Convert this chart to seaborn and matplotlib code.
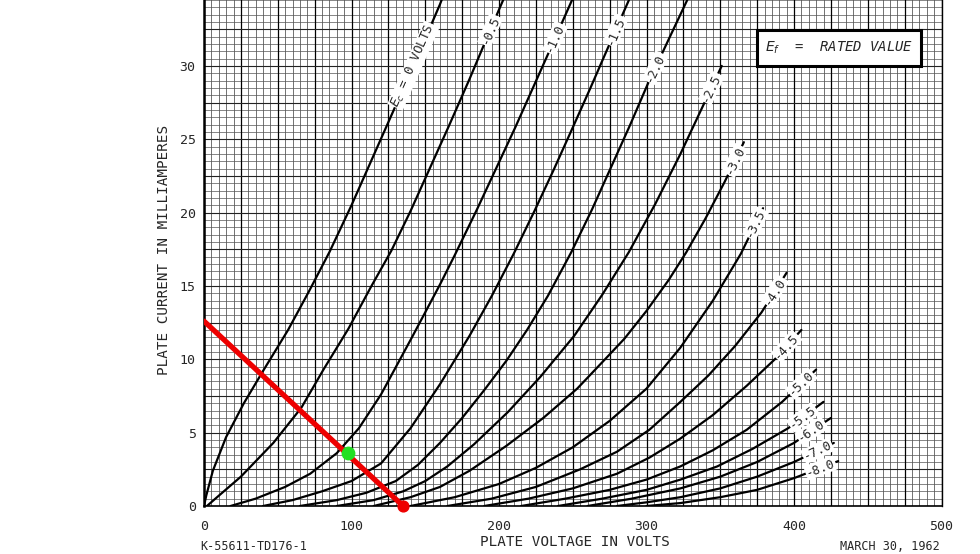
import numpy as np
import seaborn as sns
import matplotlib
matplotlib.use('Agg')
import matplotlib.pyplot as plt
from matplotlib.patches import Rectangle

# plate characteristics: plate volts / plate mA
ec_00_v = [0, 1.5, 6, 15, 27, 40, 57, 71, 85, 100, 115, 130, 145, 160, 163]
ec_00_i = [0, 0.7, 2.4, 4.7, 7.0, 9.2, 12.0, 14.6, 17.3, 20.5, 23.9, 27.3, 30.7, 34.2, 35.0]
ec_05_v = [2, 10, 25, 47, 66, 81, 98, 113, 127, 140, 153, 166, 180, 193, 205]
ec_05_i = [0, 0.7, 2.0, 4.3, 6.7, 9.3, 12.1, 14.9, 17.4, 20.1, 23.0, 25.9, 29.1, 32.2, 35.0]
ec_10_v = [18, 35, 55, 72, 90, 105, 120, 141, 160, 170, 185, 198, 211, 223, 235, 250]
ec_10_i = [0, 0.5, 1.3, 2.2, 3.6, 5.3, 7.6, 11.5, 15.1, 17.1, 20.2, 23.0, 25.8, 28.5, 31.2, 34.6]
ec_15_v = [40, 60, 80, 100, 120, 140, 160, 180, 195, 210, 224, 237, 250, 262, 275, 289]
ec_15_i = [0, 0.4, 1.0, 1.7, 2.9, 5.3, 8.3, 11.6, 14.3, 17.2, 20.1, 22.9, 25.8, 28.5, 31.5, 34.7]
ec_20_v = [65, 90, 110, 130, 145, 160, 175, 190, 205, 219, 233, 249, 263, 276, 289, 301, 315, 330]
ec_20_i = [0, 0.4, 0.9, 1.7, 2.8, 4.3, 6.0, 7.9, 9.9, 12.0, 14.3, 17.3, 20.2, 23.1, 26.0, 28.8, 31.8, 35.0]
ec_25_v = [90, 115, 135, 150, 165, 183, 206, 228, 251, 270, 288, 306, 323, 337, 351]
ec_25_i = [0, 0.4, 1.0, 1.7, 2.7, 4.2, 6.4, 8.8, 11.6, 14.4, 17.3, 20.6, 24.0, 27.0, 30.0]
ec_30_v = [115, 140, 160, 180, 205, 230, 253, 270, 285, 300, 315, 327, 340, 353, 366]
ec_30_i = [0, 0.6, 1.3, 2.4, 4.1, 6.0, 8.0, 9.8, 11.4, 13.3, 15.4, 17.3, 19.6, 22.1, 24.8]
ec_35_v = [140, 170, 200, 225, 250, 275, 300, 323, 345, 364, 379]
ec_35_i = [0, 0.6, 1.5, 2.6, 4.0, 5.8, 8.0, 10.8, 14.0, 17.2, 20.3]
ec_40_v = [165, 195, 225, 255, 280, 302, 323, 342, 360, 378, 395]
ec_40_i = [0, 0.5, 1.3, 2.5, 3.7, 5.2, 7.1, 8.9, 10.9, 13.2, 15.9]
ec_45_v = [190, 220, 250, 280, 302, 323, 345, 368, 387, 405]
ec_45_i = [0, 0.5, 1.2, 2.2, 3.3, 4.6, 6.2, 8.2, 10.0, 12.0]
ec_50_v = [215, 245, 275, 300, 323, 345, 368, 392, 415]
ec_50_i = [0, 0.5, 1.1, 1.8, 2.7, 3.8, 5.2, 7.1, 9.3]
ec_55_v = [240, 270, 300, 323, 348, 372, 396, 420]
ec_55_i = [0, 0.5, 1.1, 1.8, 2.7, 3.9, 5.3, 7.1]
ec_60_v = [260, 290, 323, 350, 375, 400, 425]
ec_60_i = [0, 0.5, 1.2, 2.0, 3.0, 4.3, 6.0]
ec_70_v = [280, 300, 323, 350, 375, 400, 427]
ec_70_i = [0, 0.25, 0.6, 1.2, 2.0, 3.0, 4.3]
ec_80_v = [300, 323, 350, 375, 400, 430]
ec_80_i = [0, 0.2, 0.6, 1.1, 1.9, 3.06]

curve_names = [r'$E_c$ = 0 VOLTS', '-0.5', '-1.0', '-1.5', '-2.0', '-2.5', '-3.0', '-3.5',
               '-4.0', '-4.5', '-5.0', '-5.5', '-6.0', '-7.0', '-8.0']
curves = [(ec_00_v, ec_00_i), (ec_05_v, ec_05_i), (ec_10_v, ec_10_i), (ec_15_v, ec_15_i),
          (ec_20_v, ec_20_i), (ec_25_v, ec_25_i), (ec_30_v, ec_30_i), (ec_35_v, ec_35_i),
          (ec_40_v, ec_40_i), (ec_45_v, ec_45_i), (ec_50_v, ec_50_i), (ec_55_v, ec_55_i),
          (ec_60_v, ec_60_i), (ec_70_v, ec_70_i), (ec_80_v, ec_80_i)]
# plate volts where each curve label sits
label_v = [142, 194, 238, 279, 306, 344, 360, 374, 387, 395, 405, 406, 412, 416, 418]

# load line and operating point drawn over the sheet
load_v = [0, 135]
load_i = [12.6, 0]
end_v = [135]
end_i = [0]
op_v = [97.4]
op_i = [3.6]

x_ticks = [0, 100, 200, 300, 400, 500]
y_ticks = [0, 5, 10, 15, 20, 25, 30]

sns.set_theme(style='white')
plt.rcParams['font.family'] = ['DejaVu Sans Mono', 'DejaVu Sans']
plt.rcParams['mathtext.fontset'] = 'dejavusans'

fig = plt.figure(figsize=(9.8, 5.54), dpi=100)
ax = fig.add_axes([204 / 980, 48 / 554, 737.5 / 980, 506 / 554])
ax.set_xlim(0, 500)
ax.set_ylim(0, 506 / 14.67)

# graph paper
ax.vlines(np.arange(0, 501, 5), 0, 35, color='#3a3a3a', lw=0.5, zorder=1)
ax.hlines(np.arange(0, 35, 0.5), 0, 500, color='#555555', lw=0.5, zorder=1)
ax.vlines(np.arange(0, 501, 25), 0, 35, color='black', lw=0.9, zorder=1)
ax.hlines(np.arange(0, 35, 2.5), 0, 500, color='#222222', lw=0.8, zorder=1)

for v, i in curves:
    sns.lineplot(x=v, y=i, ax=ax, color='black', lw=1.6, sort=False, estimator=None, zorder=3)

for name, (v, i), lv in zip(curve_names, curves, label_v):
    li = np.interp(lv, v, i)
    p = ax.transData.transform([[lv - 3, np.interp(lv - 3, v, i)], [lv + 3, np.interp(lv + 3, v, i)]])
    ang = np.degrees(np.arctan2(p[1, 1] - p[0, 1], p[1, 0] - p[0, 0]))
    ax.text(lv, li, name, rotation=ang, rotation_mode='anchor', ha='center', va='center',
            fontsize=9, zorder=4, bbox=dict(fc='white', ec='none', pad=0.6))

# rated value box
ax.add_patch(Rectangle((375, 30.0), 111, 2.45, fc='white', ec='black', lw=2.2, zorder=4))
ax.text(430.5, 31.25, r'$E_f$  =  RATED VALUE', ha='center', va='center', fontsize=10,
        style='italic', zorder=5)

sns.lineplot(x=load_v, y=load_i, ax=ax, color='#ee0000', lw=3.8, sort=False, estimator=None,
             zorder=6, solid_capstyle='round')
ax.scatter(end_v, end_i, s=60, color='#ee0000', zorder=7, clip_on=False)
ax.scatter(op_v, op_i, s=80, color='#22e022', zorder=8, clip_on=False)

ax.set_xticks(x_ticks)
ax.set_yticks(y_ticks)
ax.tick_params(length=0, labelsize=9.5)
ax.tick_params(axis='x', pad=10)
ax.tick_params(axis='y', pad=6)
for s in ['left', 'bottom', 'right']:
    ax.spines[s].set_color('black')
ax.spines['left'].set_linewidth(1.8)
ax.spines['bottom'].set_linewidth(1.2)
ax.spines['right'].set_linewidth(1.0)
ax.spines['top'].set_visible(False)

fig.text(163.5 / 980, 1 - 250 / 554, 'PLATE CURRENT IN MILLIAMPERES', rotation=90,
         ha='center', va='center', fontsize=10.3)
fig.text(575 / 980, 1 - 542 / 554, 'PLATE VOLTAGE IN VOLTS', ha='center', va='center', fontsize=10.3)
fig.text(200 / 980, 1 / 554, 'K-55611-TD176-1', ha='left', va='bottom', fontsize=8.5)
fig.text(940 / 980, 1 / 554, 'MARCH 30, 1962', ha='right', va='bottom', fontsize=8.5)

fig.savefig('out.png', dpi=100)
